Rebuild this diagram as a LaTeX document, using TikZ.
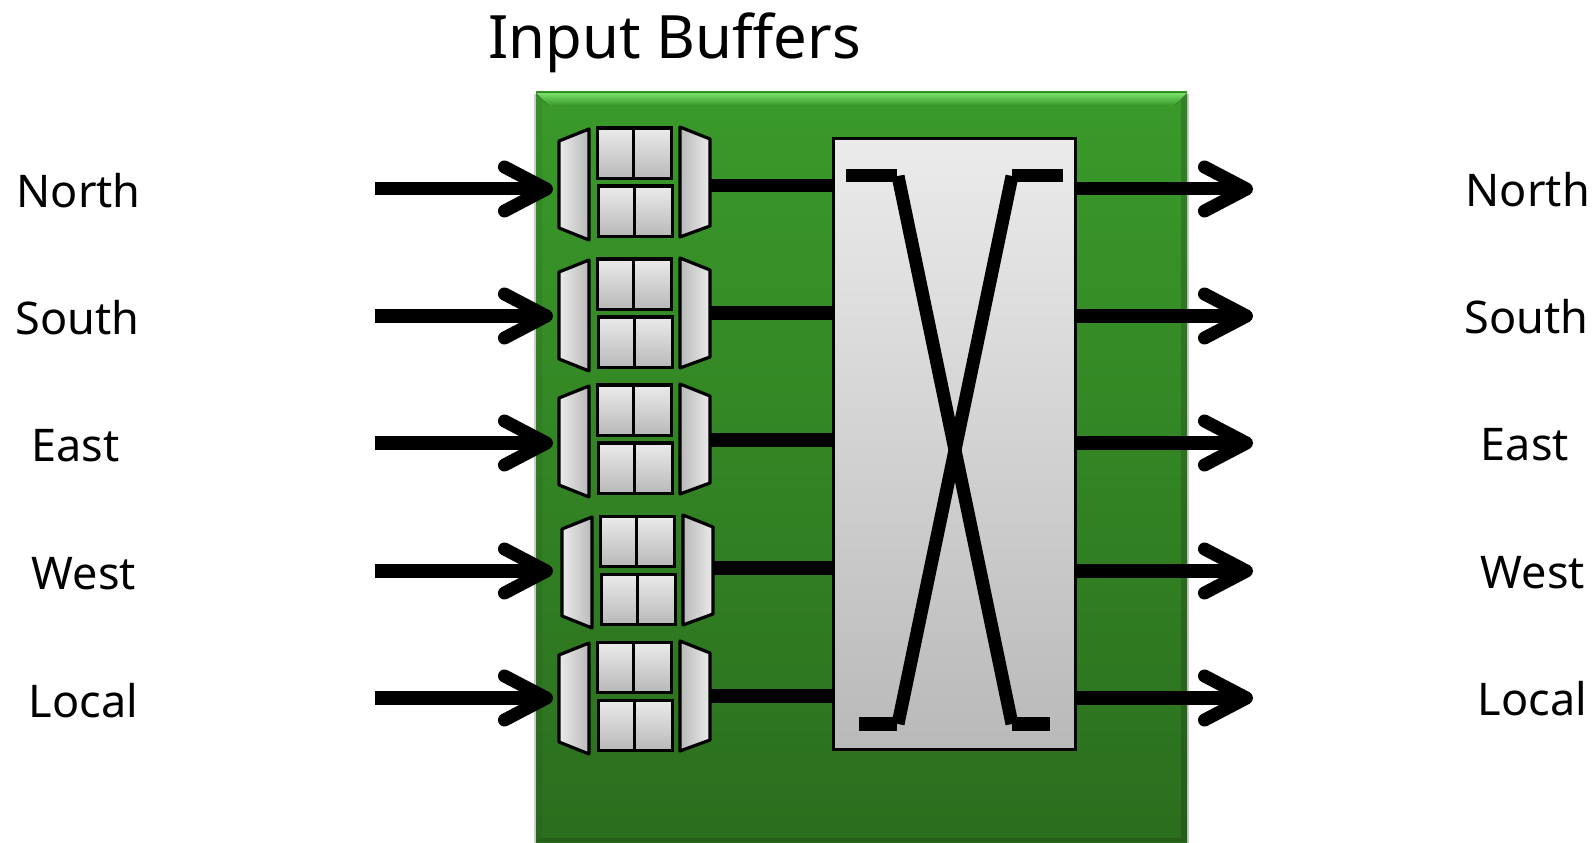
\documentclass[tikz,border=0pt]{standalone}
\usepackage{fontspec}
\setmainfont{Noto Sans}
\usetikzlibrary{arrows.meta}
\definecolor{routertop}{HTML}{3A9A2A}
\definecolor{routerbot}{HTML}{2B6E1E}
\definecolor{bevellight}{HTML}{7ADF6A}
\definecolor{greylight}{HTML}{EBEBEB}
\definecolor{greydark}{HTML}{B9B9B9}
\tikzset{
	cell/.style={draw,line width=0.032cm,top color=greylight,bottom color=greydark,minimum width=0.38cm,minimum height=0.5cm,inner sep=0pt,anchor=north west},
	mux/.style={draw,line width=0.032cm,line join=round},
	port/.style={font=\fontsize{12.8}{16}\selectfont,anchor=base west,inner sep=0pt},
	link/.style={line width=0.13cm},
	flow/.style={line width=0.13cm,-{Straight Barb[round,length=0.42cm,width=0.44cm]}},
	cross/.style={line width=0.13cm}
}
\begin{document}
\begin{tikzpicture}[x=0.01cm,y=-0.01cm]
	\useasboundingbox (0,0) rectangle (1594,843);
	% router body
	\fill[black!20] (534,94) rectangle (1189,843);
	\fill[top color=routertop,bottom color=routerbot] (536,92) rectangle (1187,842);
	\fill[top color=bevellight,bottom color=routertop] (536,93) -- (1187,93) -- (1175,105) -- (548,105) -- cycle;
	\fill[black,opacity=0.15] (1187,93) -- (1187,842) -- (1181,837) -- (1181,99) -- cycle;
	\fill[black,opacity=0.06] (536,93) -- (536,842) -- (542,837) -- (542,99) -- cycle;
	\fill[routerbot!85!black] (536,842) -- (1187,842) -- (1182,838) -- (541,838) -- cycle;
	\draw[routertop!85!black,line width=0.015cm] (536,92.5) -- (1187,92.5);
	% crossbar
	\node[draw,line width=0.03cm,top color=greylight,bottom color=greydark,minimum width=2.42cm,minimum height=6.11cm,inner sep=0pt] (xbar) at (954.5,444) {};
	\coordinate (tl) at (846,176);
	\coordinate (tlk) at (897,176);
	\coordinate (tld) at (898,176);
	\coordinate (bl) at (859,724);
	\coordinate (blk) at (897,724);
	\coordinate (bld) at (898,724);
	\coordinate (tr) at (1063,176);
	\coordinate (trk) at (1012,176);
	\coordinate (br) at (1050,724);
	\coordinate (brk) at (1012,724);
	\draw[cross] (tl) -- (tlk);
	\draw[cross] (tld) -- (brk);
	\draw[cross] (br) -- (brk);
	\draw[cross] (tr) -- (trk);
	\draw[cross] (trk) -- (bld);
	\draw[cross] (bl) -- (blk);
	% one buffer per port
	\foreach \i/\dx/\dy/\ly/\ay in {1/0/0/185.5/189,2/0/131/313/316,3/0/257/440/443,4/3/388/568/571,5/0/514/696/698}{
		\begin{scope}[shift={(\dx,\dy)}]
			\draw[mux,left color=greylight,right color=greydark] (559,141) -- (589,129) -- (589,240) -- (559,228) -- cycle;
			\draw[mux,left color=greydark,right color=greylight] (680,127) -- (710,139) -- (710,226) -- (680,237) -- cycle;
			\node[cell] (a\i) at (595.5,126.5) {};
			\node[cell] (b\i) at (632,126.5) {};
			\node[cell] (c\i) at (596.5,184.5) {};
			\node[cell] (d\i) at (632.5,184.5) {};
			\coordinate (m\i) at (710,0);
		\end{scope}
		\coordinate (ol\i) at (m\i |- 0,\ly);
		\coordinate (xl\i) at (xbar.west |- 0,\ly);
		\draw[link] (ol\i) -- (xl\i);
		% ports
		\coordinate (in\i) at (375,\ay);
		\coordinate (tip\i) at (553,\ay);
		\coordinate (xr\i) at (xbar.east |- 0,\ay);
		\coordinate (out\i) at (1253,\ay);
		\draw[flow] (in\i) -- (tip\i);
		\draw[flow] (xr\i) -- (out\i);
	}
	\node[port] (inn) at (16,208) {North};
	\node[port] (ins) at (15,335) {South};
	\node[port] (ine) at (31,462) {East};
	\node[port] (inw) at (31,589) {West};
	\node[port] (inl) at (28,717) {Local};
	\node[port] (outn) at (1465,207) {North};
	\node[port] (outs) at (1464,334) {South};
	\node[port] (oute) at (1480,461) {East};
	\node[port] (outw) at (1480,588) {West};
	\node[port] (outl) at (1477,715) {Local};
	\node[font=\fontsize{17}{20}\selectfont,anchor=base west,inner sep=0pt] (title) at (488,59) {Input Buffers};
\end{tikzpicture}
\end{document}
